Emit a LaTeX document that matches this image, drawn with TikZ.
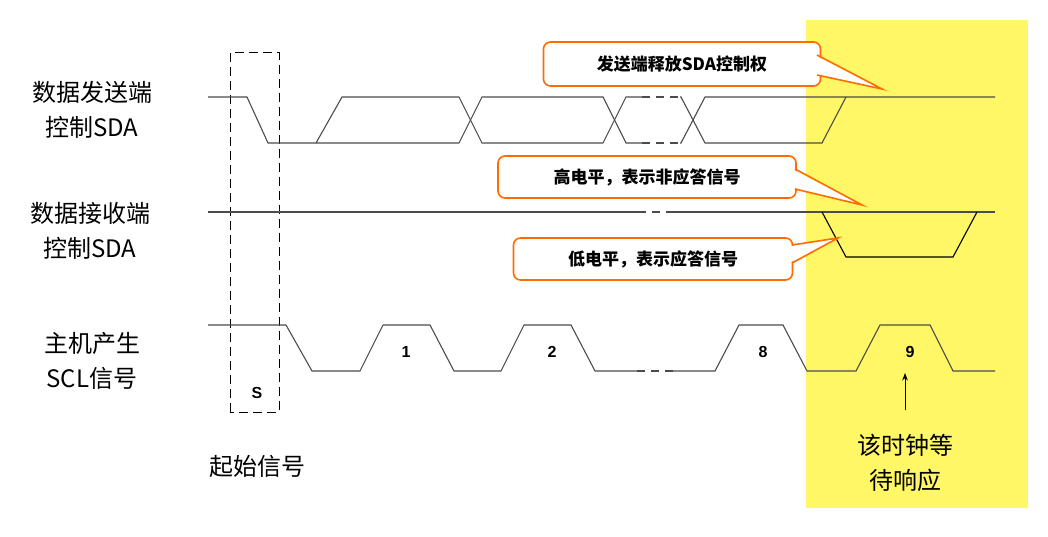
\documentclass[tikz,border=0pt]{standalone}
\usepackage{fontspec}
\setmainfont{Noto Sans CJK SC}
\newfontfamily\sigfont{Liberation Sans}
\usetikzlibrary{arrows.meta}

\tikzset{
  wave/.style={gray!60!black, line width=1.1pt},
  sidelabel/.style={font=\fontsize{24}{35}\selectfont, align=center},
  bitlabel/.style={font=\sigfont\bfseries\fontsize{16}{18}\selectfont},
  callout/.style={draw=orange!85!red, line width=1.6pt, rounded corners=7pt, fill=white,
    font=\bfseries\fontsize{17}{19}\selectfont, inner sep=0pt},
}

\begin{document}
\begin{tikzpicture}[x=1pt, y=-1pt, >=Stealth]
    \useasboundingbox (0,0) rectangle (1048,537);
    % waiting area
    \fill[yellow!60] (806,20) rectangle (1028,508);

    % side labels
    \node (txa) [sidelabel] at (92,110) {数据发送端\\控制SDA};
    \node (rxa) [sidelabel] at (90,231) {数据接收端\\控制SDA};
    \node (scl) [sidelabel] at (92,361) {主机产生\\SCL信号};
    \node (start) [sidelabel] at (257,466) {起始信号};
    \node (wait) [sidelabel] at (905,463) {该时钟等\\待响应};

    % start box
    \draw[dash pattern=on 9pt off 5pt, line width=1pt] (230,412) -- (230,53) -- (279,53) -- (279,412) -- cycle;
    \node (sbit) [bitlabel] at (257,393) {S};

    % sender SDA
    \draw[wave] (208,97) -- (247,97) -- (268,143) -- (316,143) -- (342,97) -- (459,97) -- (482,143) -- (603,143) -- (626,97) -- (642,97);
    \draw[wave] (316,143) -- (459,143) -- (482,97) -- (603,97) -- (626,143) -- (642,143);
    \draw[wave, dash pattern=on 8pt off 6pt] (642,97) -- (680,97) (642,143) -- (680,143);
    \draw[wave] (680,97) -- (681,97) -- (705,143) -- (822,143) -- (846,97);
    \draw[wave] (680,143) -- (681,143) -- (705,97) -- (995,97);

    % receiver SDA
    \draw[wave] (208,212) -- (638,212);
    \draw[wave, dash pattern=on 8pt off 6pt] (638,212) -- (673,212);
    \draw[wave] (673,212) -- (995,212);
    \draw[wave, black] (822,212) -- (846,257) -- (953,257) -- (977,212);

    % SCL
    \draw[wave] (208,325) -- (286,325) -- (312,371) -- (360,371) -- (383,325) -- (430,325) -- (454,371) -- (501,371) -- (524,325) -- (571,325) -- (595,371) -- (637,371);
    \draw[wave, dash pattern=on 8pt off 6pt] (637,371) -- (673,371);
    \draw[wave] (673,371) -- (715,371) -- (739,325) -- (783,325) -- (807,371) -- (856,371) -- (880,325) -- (930,325) -- (953,371) -- (995,371);
    \node (b1) [bitlabel] at (406,352) {1};
    \node (b2) [bitlabel] at (552,352) {2};
    \node (b8) [bitlabel] at (763,352) {8};
    \node (b9) [bitlabel] at (910,352) {9};
    \coordinate (tail) at (905,410);
    \draw[->, line width=1pt] (tail) -- (905,373);

    % callouts
    \node (release) [callout, minimum width=277pt, minimum height=44pt] at (682,64) {发送端释放SDA控制权};
    \fill[white] (816,56) -- (882,89) -- (816,74) -- cycle;
    \draw[orange!85!red, line width=1.6pt] (817,55) -- (882,89) -- (817,75);
    \node (nack) [callout, minimum width=298pt, minimum height=42pt] at (647,177) {高电平，表示非应答信号};
    \fill[white] (794,170) -- (862,205) -- (794,188) -- cycle;
    \draw[orange!85!red, line width=1.6pt] (795,169) -- (862,205) -- (795,189);
    \node (ack) [callout, minimum width=279pt, minimum height=42pt] at (653,259) {低电平，表示应答信号};
    \fill[white] (791,246) -- (838,238) -- (791,262) -- cycle;
    \draw[orange!85!red, line width=1.6pt] (792,245) -- (838,238) -- (792,263);
\end{tikzpicture}
\end{document}
